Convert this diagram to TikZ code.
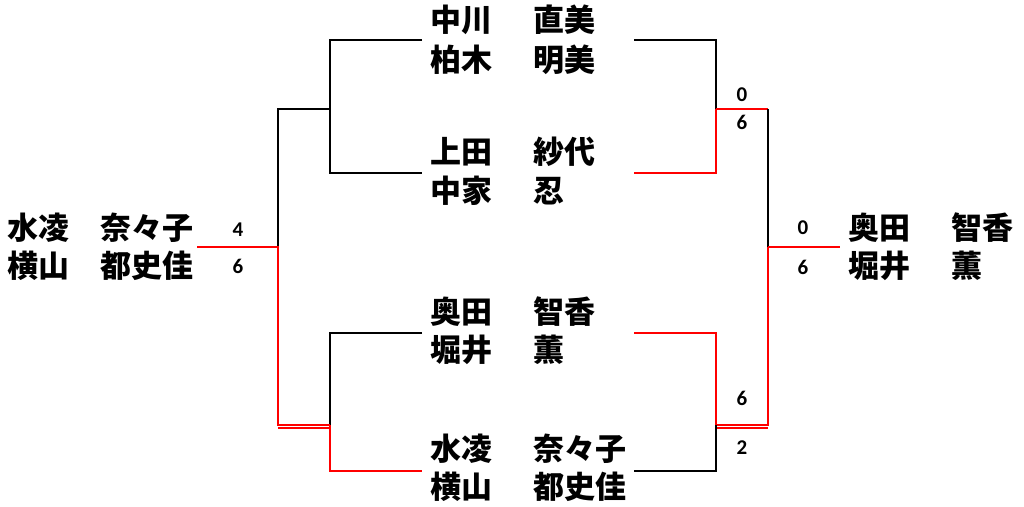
\documentclass[tikz,border=0pt]{standalone}
\usepackage{fontspec}
\newfontfamily\jpfont{Noto Sans CJK JP}
\newfontfamily\numfont{Carlito}
\newcommand\sei[2][103pt]{\makebox[#1][l]{#2}}
\begin{document}
\begin{tikzpicture}[x=1pt,y=-1pt]
\tikzset{joueur/.style={anchor=west, inner sep=0pt, font=\jpfont\bfseries\fontsize{31}{31}\selectfont},
score/.style={inner sep=0pt, font=\numfont\bfseries\fontsize{21}{21}\selectfont},
trait/.style={line width=2.2pt},
gagne/.style={trait, red}}
\useasboundingbox (0,0) rectangle (1024,506);
% joueurs
\node[joueur] (P1) at (430,20) {\sei{中川}直美};
\node[joueur] (P2) at (430,60) {\sei{柏木}明美};
\node[joueur] (P3) at (430,152) {\sei{上田}紗代};
\node[joueur] (P4) at (430,191) {\sei{中家}忍};
\node[joueur] (P5) at (430,312) {\sei{奥田}智香};
\node[joueur] (P6) at (430,350) {\sei{堀井}薫};
\node[joueur] (P7) at (430,449) {\sei{水凌}奈々子};
\node[joueur] (P8) at (430,487) {\sei{横山}都史佳};
\node[joueur] (L1) at (7,228) {\sei[93pt]{水凌}奈々子};
\node[joueur] (L2) at (7,266) {\sei[93pt]{横山}都史佳};
\node[joueur] (R1) at (848,228) {\sei{奥田}智香};
\node[joueur] (R2) at (848,266) {\sei{堀井}薫};
% scores
\node[score] (S1) at (238,230) {4};
\node[score] (S2) at (238,266) {6};
\node[score] (S3) at (742,95) {0};
\node[score] (S4) at (742,122) {6};
\node[score] (S5) at (803,228) {0};
\node[score] (S6) at (803,267) {6};
\node[score] (S7) at (742,398) {6};
\node[score] (S8) at (742,448) {2};
% points du tableau
\coordinate (t1) at (422,40);
\coordinate (t2) at (422,173);
\coordinate (t3) at (422,333);
\coordinate (t4) at (422,471);
\coordinate (a1) at (330,109);
\coordinate (a2) at (330,425);
\coordinate (b1) at (278,247);
\coordinate (fL) at (197,247);
\coordinate (u1) at (634,40);
\coordinate (u2) at (634,173);
\coordinate (u3) at (634,333);
\coordinate (u4) at (634,471);
\coordinate (c1) at (716,109);
\coordinate (c2) at (716,425);
\coordinate (e1) at (768,109);
\coordinate (d1) at (768,247);
\coordinate (fR) at (840,247);
% gauche
\draw[trait] (t1) -| (a1) |- (t2);
\draw[trait] (a1) -| (b1);
\draw[trait] (t3) -| (a2);
\draw[gagne] (fL) -- (b1) |- (a2);
\draw[gagne] (a2) ++(0,3) -- ++(-52,0);
\draw[gagne] (a2) |- (t4);
% droite
\draw[trait] (u1) -| (c1);
\draw[gagne] (c1) |- (u2);
\draw[gagne] (c1) -- (e1);
\draw[trait] (e1) -- (d1);
\draw[gagne] (d1) -- (fR);
\draw[gagne] (d1) |- (c2);
\draw[gagne] (c2) ++(0,3) -- ++(52,0);
\draw[gagne] (u3) -| (c2);
\draw[trait] (c2) |- (u4);
\end{tikzpicture}
\end{document}
